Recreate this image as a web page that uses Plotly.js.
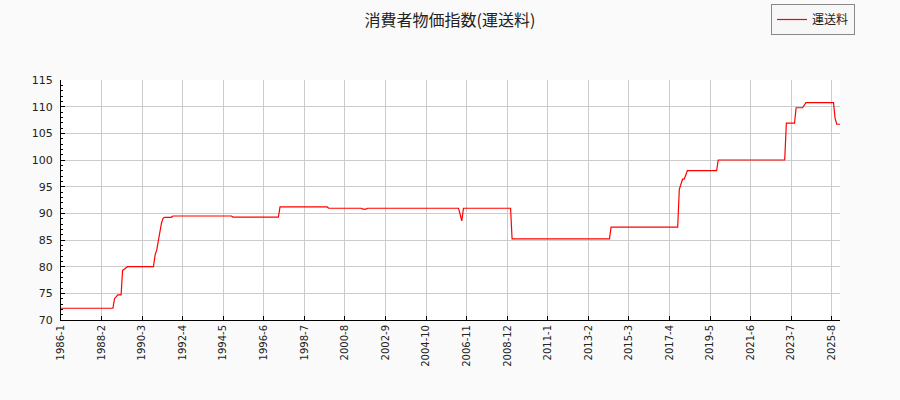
<!DOCTYPE html>
<html>
<head>
<meta charset="utf-8">
<script src="https://cdn.plot.ly/plotly-3.0.1.min.js"></script>
<style>
  html, body { margin: 0; padding: 0; background: #fafafa; }
  #chart { width: 900px; height: 400px; }
</style>
</head>
<body>
<div id="chart"></div>
<script>
// change points of the monthly series (line drawn straight between them)
var months = [
    '1986-01', '1988-09', '1988-10', '1988-11', '1988-12', '1989-02', '1989-03', '1989-04',
    '1989-05', '1989-06', '1990-10', '1990-11', '1990-12', '1991-01', '1991-02', '1991-03',
    '1991-04', '1991-05', '1991-09', '1991-10', '1994-10', '1994-11', '1997-03', '1997-04',
    '1999-09', '1999-10', '2001-06', '2001-07', '2001-09', '2001-10', '2006-06', '2006-07',
    '2006-08', '2006-09', '2009-02', '2009-03', '2014-03', '2014-04', '2017-09', '2017-10',
    '2017-11', '2017-12', '2018-01', '2018-02', '2018-03', '2019-09', '2019-10', '2023-03',
    '2023-04', '2023-09', '2023-10', '2024-02', '2024-03', '2024-04', '2025-09', '2025-10',
    '2025-11', '2026-01'
];
var fareIndex = [
    72.2, 72.2, 74.0, 74.3, 74.7, 74.7, 79.3, 79.5,
    79.8, 80.0, 80.0, 82.2, 83.1, 85.0, 87.0, 88.2,
    89.1, 89.25, 89.25, 89.5, 89.5, 89.3, 89.3, 91.2,
    91.2, 90.95, 90.95, 90.8, 90.8, 90.95, 90.95, 89.5,
    88.6, 90.95, 90.95, 85.2, 85.2, 87.4, 87.4, 94.5,
    95.6, 96.4, 96.4, 97.4, 98.0, 98.0, 100.0, 100.0,
    106.9, 106.9, 109.8, 109.8, 110.2, 110.75, 110.75, 107.8,
    106.7, 106.7
];
var tickLabels = [
    '1986-1', '1988-2', '1990-3', '1992-4', '1994-5', '1996-6', '1998-7', '2000-8',
    '2002-9', '2004-10', '2006-11', '2008-12', '2011-1', '2013-2', '2015-3', '2017-4',
    '2019-5', '2021-6', '2023-7', '2025-8'
];
var seriesName = '運送料';
var chartTitle = '消費者物価指数(運送料)';

function labelToDate(lbl) {
    var p = lbl.split('-');
    return p[0] + '-' + (p[1].length < 2 ? '0' + p[1] : p[1]) + '-01';
}

var trace = {
    x: months.map(function(m) { return m + '-01'; }),
    y: fareIndex,
    type: 'scatter', mode: 'lines', name: seriesName,
    line: {color: '#ff0000', width: 1.2}
};

var axisCommon = {
    showline: true, linecolor: '#000', linewidth: 1, mirror: false,
    ticks: 'inside', ticklen: 4, tickcolor: '#000', tickwidth: 1,
    showgrid: true, gridcolor: '#cccccc', gridwidth: 1, zeroline: false,
    tickfont: {family: 'DejaVu Sans', size: 10, color: '#222'}
};

var layout = {
    width: 900, height: 400,
    paper_bgcolor: '#fafafa', plot_bgcolor: '#ffffff',
    margin: {l: 61, r: 60, t: 80, b: 80, autoexpand: false},
    title: {text: chartTitle, x: 0.5, xanchor: 'center', y: 0.95, yanchor: 'middle',
            font: {family: 'Noto Sans CJK JP', size: 16, color: '#222'}},
    showlegend: true,
    legend: {xref: 'container', yref: 'container', x: 0.95, xanchor: 'right', y: 0.99, yanchor: 'top',
             bgcolor: '#f7f7f7', bordercolor: '#888', borderwidth: 1,
             font: {family: 'Noto Sans CJK JP', size: 12, color: '#222'}},
    xaxis: Object.assign({}, axisCommon, {
        type: 'date', range: ['1986-01-01', '2026-01-01'],
        tickmode: 'array', tickvals: tickLabels.map(labelToDate), ticktext: tickLabels,
        tickangle: -90
    }),
    yaxis: Object.assign({}, axisCommon, {
        range: [70, 115], tickmode: 'linear', tick0: 70, dtick: 5,
        ticklabelstandoff: 5,
        tickfont: {family: 'DejaVu Sans', size: 11, color: '#222'},
        minor: {dtick: 1, ticks: 'inside', ticklen: 2, tickcolor: '#000', showgrid: false}
    })
};

Plotly.newPlot('chart', [trace], layout, {displayModeBar: false, staticPlot: true});
</script>
</body>
</html>
